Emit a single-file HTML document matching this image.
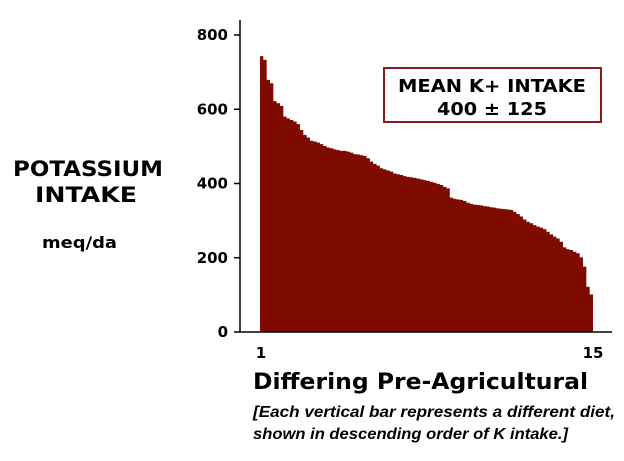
<!DOCTYPE html>
<html><head><meta charset="utf-8"><style>
html,body{margin:0;padding:0;background:#fff;}
svg{display:block;}
.v{font-family:"DejaVu Sans","Liberation Sans",sans-serif;font-weight:bold;}
</style></head><body>
<svg id="chart" width="624" height="461" viewBox="0 0 624 461">
<g id="bars"></g>
<line x1="240" y1="20" x2="240" y2="332" stroke="#000" stroke-width="1.5"/>
<line x1="240" y1="332" x2="612" y2="332" stroke="#000" stroke-width="1.5"/>
<g id="yticks"></g>
<text x="261" y="358" text-anchor="middle" class="v" font-size="15">1</text>
<text x="593" y="358" text-anchor="middle" class="v" font-size="15">15</text>
<text x="253" y="389" class="v" font-size="22" textLength="335" lengthAdjust="spacingAndGlyphs">Differing Pre-Agricultural</text>
<text x="253" y="417" font-family="'Liberation Sans',sans-serif" font-weight="bold" font-style="italic" font-size="15.5" textLength="362" lengthAdjust="spacingAndGlyphs">[Each vertical bar represents a different diet,</text>
<text x="253" y="439" font-family="'Liberation Sans',sans-serif" font-weight="bold" font-style="italic" font-size="15.5" textLength="315" lengthAdjust="spacingAndGlyphs">shown in descending order of K intake.]</text>
<text x="13" y="176" class="v" font-size="21" textLength="150" lengthAdjust="spacingAndGlyphs">POTASSIUM</text>
<text x="35" y="202" class="v" font-size="21" textLength="102" lengthAdjust="spacingAndGlyphs">INTAKE</text>
<text x="42" y="248" class="v" font-size="16" textLength="75" lengthAdjust="spacingAndGlyphs">meq/da</text>
<rect x="384" y="68" width="217" height="54" fill="#fff" stroke="#8b1a1a" stroke-width="2"/>
<text x="398" y="92" class="v" font-size="18" textLength="188" lengthAdjust="spacingAndGlyphs">MEAN K+ INTAKE</text>
<text x="437" y="115" class="v" font-size="18" textLength="110" lengthAdjust="spacingAndGlyphs">400 ± 125</text>
</svg>
<script>
const values = [743,733,679,670,622,616,609,580,575,571,567,560,544,531,524,515,513,510,506,501,497,495,492,490,488,488,486,483,479,478,476,474,468,459,453,448,441,438,435,432,427,425,423,420,418,417,415,413,411,409,407,404,402,399,396,391,387,362,359,357,356,353,348,345,343,342,341,339,338,336,335,333,332,331,330,329,324,318,311,303,297,293,288,284,281,277,270,263,257,252,243,228,223,221,216,212,201,176,122,101];
const yTicks = [0,200,400,600,800];
const NS="http://www.w3.org/2000/svg";
const y0=332, y800=35, xL=260, xR=593;
function yS(v){return y0-(v/800)*(y0-y800);}
function xS(i){return xL+(xR-xL)*i/values.length;}
const g=document.getElementById('bars');
let d='M'+xS(0)+','+y0;
values.forEach((v,i)=>{d+=' L'+xS(i)+','+yS(v)+' L'+xS(i+1)+','+yS(v);});
d+=' L'+xS(values.length)+','+y0+' Z';
const p=document.createElementNS(NS,'path');
p.setAttribute('d',d);p.setAttribute('fill','#7f0b00');


g.appendChild(p);
const t=document.getElementById('yticks');
yTicks.forEach(v=>{
 const l=document.createElementNS(NS,'line');
 l.setAttribute('x1',234);l.setAttribute('x2',240);l.setAttribute('y1',yS(v));l.setAttribute('y2',yS(v));
 l.setAttribute('stroke','#000');l.setAttribute('stroke-width','1.5');
 
 
 t.appendChild(l);
 const tx=document.createElementNS(NS,'text');
 tx.setAttribute('x',228);tx.setAttribute('y',yS(v)+5);tx.setAttribute('text-anchor','end');
 tx.setAttribute('class','v');tx.setAttribute('font-size','15');tx.textContent=v;
 
 
 t.appendChild(tx);
});
</script>
</body></html>
